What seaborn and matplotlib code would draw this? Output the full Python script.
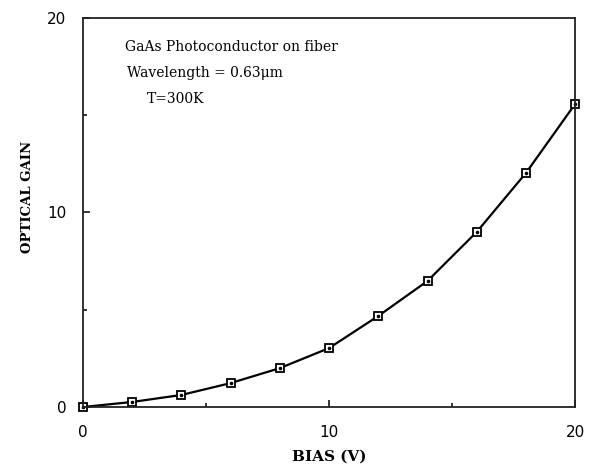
import numpy as np
import pandas as pd
import matplotlib
matplotlib.use("Agg")
import matplotlib.pyplot as plt
import seaborn as sns

# values
bias = [0, 2, 4, 6, 8, 10, 12, 14, 16, 18, 20]
gain = [0.0, 0.26, 0.62, 1.23, 2.0, 3.03, 4.68, 6.48, 9.0, 12.03, 15.58]
notes = ["GaAs Photoconductor on fiber", "Wavelength = 0.63\u03bcm", "T=300K"]

df = pd.DataFrame({"bias": bias, "gain": gain})

sns.set_style("ticks")
plt.rcParams["font.family"] = ["DejaVu Sans"]
plt.rcParams["text.color"] = "black"
plt.rcParams["axes.labelcolor"] = "black"
plt.rcParams["xtick.color"] = "black"
plt.rcParams["ytick.color"] = "black"

fig = plt.figure(figsize=(5.93, 4.70), dpi=100)
ax = fig.add_axes([0.14, 0.134, 0.83, 0.828])

sns.lineplot(data=df, x="bias", y="gain", ax=ax, color="black", lw=1.6,
             marker="s", markersize=6.2, markerfacecolor="white",
             markeredgecolor="black", markeredgewidth=1.3, clip_on=False)
# little dot in the middle of each square
ax.plot(df["bias"], df["gain"], ls="none", marker="o", markersize=1.6,
        color="black", clip_on=False)

ax.set_xlim(0, 20)
ax.set_ylim(0, 20)
ax.set_xticks([0, 10, 20])
ax.set_yticks([0, 10, 20])
ax.set_xticks([5, 15], minor=True)
ax.set_yticks([5, 15], minor=True)
ax.tick_params(which="both", direction="in", width=1.1, color="black")
ax.tick_params(which="major", length=5, labelsize=11)
ax.tick_params(axis="x", which="major", pad=13)
ax.tick_params(axis="y", which="major", pad=12)
ax.tick_params(which="minor", length=3)
for s in ax.spines.values():
    s.set_visible(True)
    s.set_linewidth(1.3)
    s.set_color("#222222")

ax.set_xlabel("BIAS (V)", family="DejaVu Serif", fontweight="bold",
              fontsize=11)
ax.set_ylabel("OPTICAL GAIN", family="DejaVu Serif", fontweight="bold",
              fontsize=9.5)
ax.xaxis.set_label_coords(0.5, -0.11)
ax.yaxis.set_label_coords(-0.10, 0.54)

xs = [0.085, 0.09, 0.13]
ys = [0.925, 0.858, 0.792]
for t, x, y in zip(notes, xs, ys):
    ax.text(x, y, t, transform=ax.transAxes, family="DejaVu Serif",
            fontsize=10, va="center", ha="left")

fig.savefig("out.png", dpi=100)
